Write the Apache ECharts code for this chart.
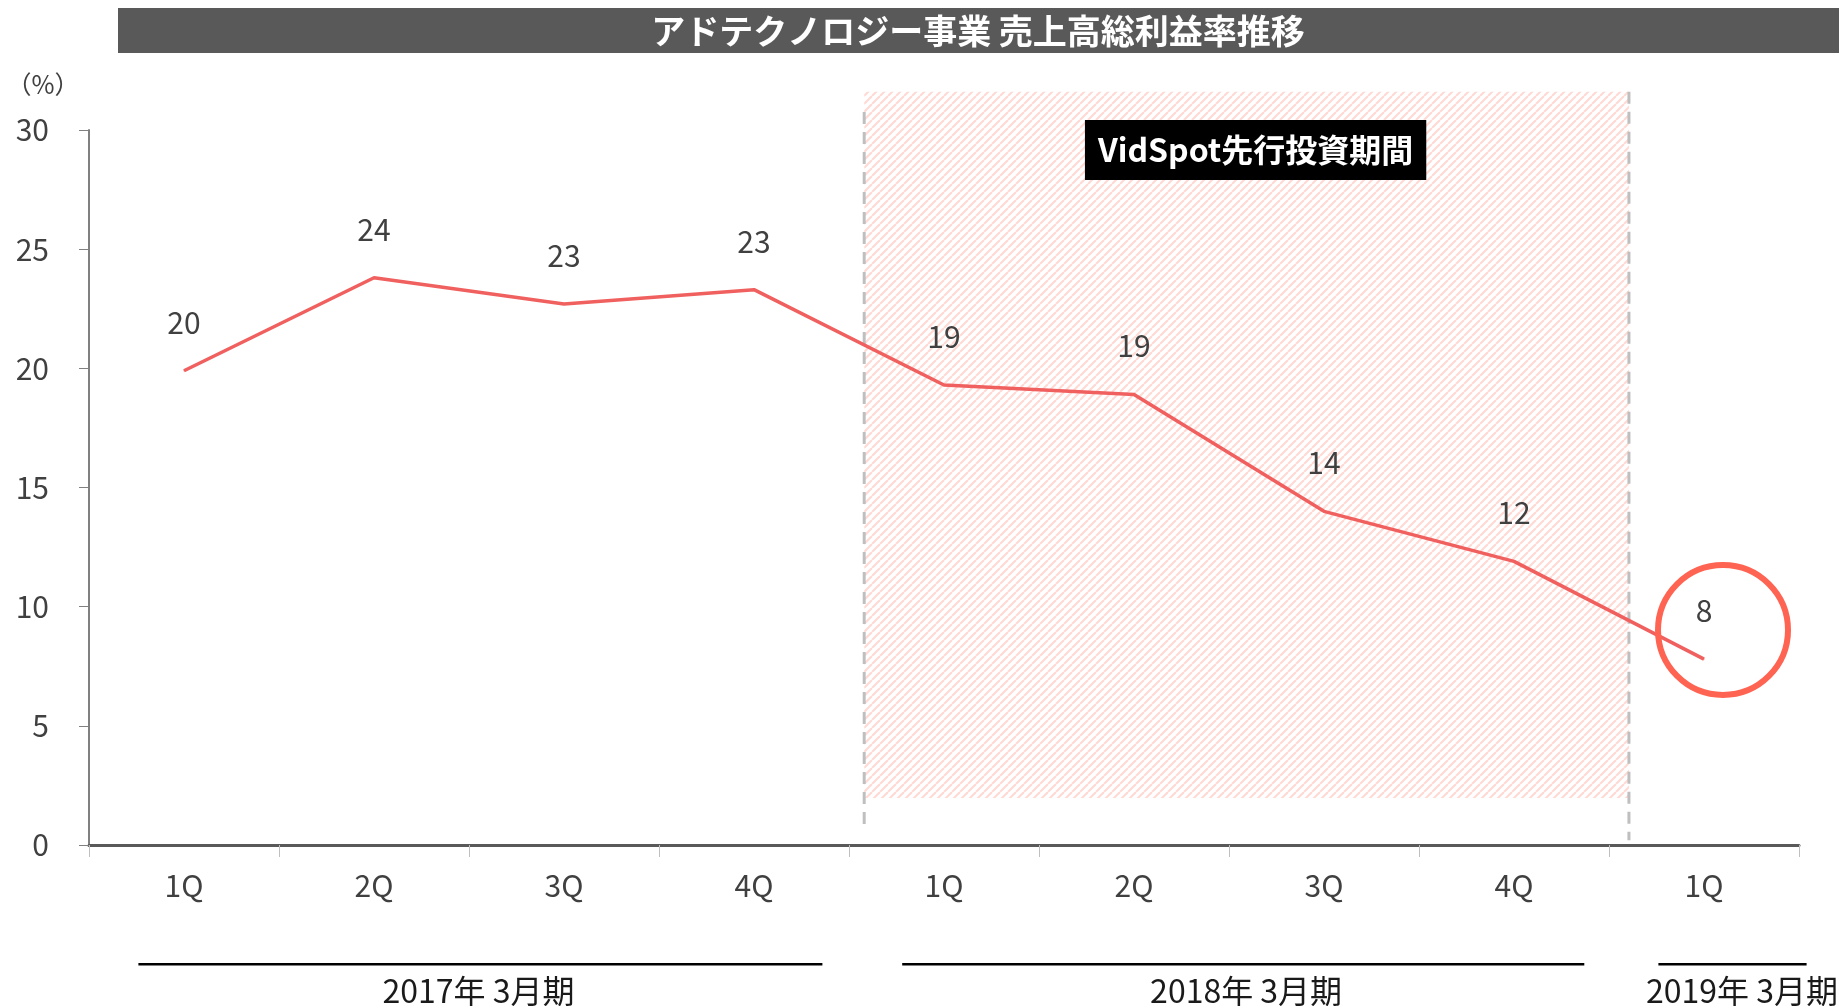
<!DOCTYPE html>
<html>
<head>
<meta charset="utf-8">
<script src="https://cdn.jsdelivr.net/npm/echarts@6/dist/echarts.min.js"></script>
<style>
html,body{margin:0;padding:0;background:#fff;}
#chart{width:1841px;height:1006px;}
</style>
</head>
<body>
<div id="chart"></div>
<script>
const titleText = 'アドテクノロジー事業 売上高総利益率推移';
const categories = ['1Q', '2Q', '3Q', '4Q', '1Q', '2Q', '3Q', '4Q', '1Q'];
const grossMargin = [19.9, 23.8, 22.7, 23.3, 19.3, 18.9, 14.0, 11.9, 7.8];
const fiscalYears = ['2017年 3月期', '2018年 3月期', '2019年 3月期'];
const periodLabel = 'VidSpot先行投資期間';
const unitLabel = '（%）';

// annotation placement (in axis units)
const yearSpans = [[0.26, 3.86, 2.05], [4.28, 7.87, 6.09], [8.26, 9.04, 8.70]];
const band = {x0: 4.08, x1: 8.105, y0: 1.97, y1: 31.6};
const dashL = {x: 4.08, y0: 0.71, y1: 30.76};
const dashR = {x: 8.105, y0: 0.2, y1: 31.6};
const boxCenter = [6.14, 29.16];
const circleCenter = [8.6, 9.02];

const FONT = '"Noto Sans CJK JP", "Noto Sans", sans-serif';

function makeHatch() {
  const s = 8;
  const c = document.createElement('canvas');
  c.width = s; c.height = s;
  const ctx = c.getContext('2d');
  ctx.strokeStyle = '#FFDAD5';
  ctx.lineWidth = 2.2;
  for (const k of [-s, 0, s]) {
    ctx.beginPath();
    ctx.moveTo(k, s);
    ctx.lineTo(k + s, 0);
    ctx.stroke();
  }
  return c;
}
const hatch = makeHatch();

const chart = echarts.init(document.getElementById('chart'));

const option = {
  animation: false,
  backgroundColor: '#fff',
  grid: {left: 89, right: 42, top: 130, bottom: 161},
  graphic: [
    {type: 'rect', left: 118, top: 8, shape: {width: 1721, height: 45}, style: {fill: '#595959'}, z: 0},
    {type: 'text', x: 978, y: 31, style: {text: titleText, fill: '#fff', font: 'bold 34px ' + FONT, align: 'center', verticalAlign: 'middle'}, z: 1},
    {type: 'text', x: 43, y: 84, style: {text: unitLabel, fill: '#404040', font: '25px ' + FONT, align: 'center', verticalAlign: 'middle'}, z: 1}
  ],
  xAxis: [
    {
      type: 'category',
      data: categories,
      boundaryGap: true,
      axisLine: {show: true, lineStyle: {color: '#595959', width: 3}},
      axisTick: {show: true, length: 12, lineStyle: {color: '#BFBFBF', width: 1}},
      axisLabel: {color: '#404040', fontSize: 30, fontFamily: FONT, margin: 26},
      splitLine: {show: false}
    },
    {
      type: 'value', min: 0, max: 9, show: false
    }
  ],
  yAxis: {
    type: 'value', min: 0, max: 30, interval: 5,
    axisLine: {show: true, lineStyle: {color: '#808080', width: 2}},
    axisTick: {show: true, inside: false, length: 10, lineStyle: {color: '#808080', width: 1}},
    axisLabel: {color: '#404040', fontSize: 30, fontFamily: FONT, margin: 40},
    splitLine: {show: false}
  },
  series: [
    {
      type: 'custom',
      xAxisIndex: 1,
      yAxisIndex: 0,
      clip: false,
      silent: true,
      z: 1,
      data: [[0, 0]],
      renderItem: function (params, api) {
        const children = [];
        const tl = api.coord([band.x0, band.y1]);
        const br = api.coord([band.x1, band.y0]);
        children.push({type: 'rect', shape: {x: tl[0], y: tl[1], width: br[0] - tl[0], height: br[1] - tl[1]},
          style: {fill: {image: hatch, repeat: 'repeat'}}, z2: 0});
        [dashL, dashR].forEach(function (d) {
          const a = api.coord([d.x, d.y1]);
          const b = api.coord([d.x, d.y0]);
          children.push({type: 'line', shape: {x1: a[0], y1: a[1], x2: b[0], y2: b[1]},
            style: {stroke: '#BFBFBF', lineWidth: 3, lineDash: [12, 8]}, z2: 1});
        });
        const bc = api.coord(boxCenter);
        children.push({type: 'text', x: bc[0], y: bc[1],
          style: {text: periodLabel, fill: '#fff', font: 'bold 32px ' + FONT, align: 'center', verticalAlign: 'middle',
            backgroundColor: '#000', padding: [13, 13, 13, 13], lineHeight: 34}, z2: 2});
        yearSpans.forEach(function (sp, i) {
          const a = api.coord([sp[0], -5]);
          const b = api.coord([sp[1], -5]);
          children.push({type: 'line', shape: {x1: a[0], y1: a[1], x2: b[0], y2: b[1]},
            style: {stroke: '#000', lineWidth: 2.5}, z2: 1});
          const t = api.coord([sp[2], -6.1]);
          children.push({type: 'text', x: t[0], y: t[1],
            style: {text: fiscalYears[i], fill: '#1a1a1a', font: '32px ' + FONT, align: 'center', verticalAlign: 'middle'}, z2: 1});
        });
        return {type: 'group', children: children};
      }
    },
    {
      type: 'line',
      data: grossMargin,
      z: 3,
      symbol: 'circle',
      symbolSize: 1,
      itemStyle: {color: '#F0605F'},
      lineStyle: {color: '#F0605F', width: 3.5},
      label: {
        show: true, position: 'top', distance: 33,
        color: '#404040', fontSize: 30, fontFamily: FONT,
        formatter: function (p) { return Math.round(p.value); }
      }
    },
    {
      type: 'custom',
      xAxisIndex: 1,
      yAxisIndex: 0,
      clip: false,
      silent: true,
      z: 4,
      data: [[0, 0]],
      renderItem: function (params, api) {
        const c = api.coord(circleCenter);
        return {type: 'circle', shape: {cx: c[0], cy: c[1], r: 65},
          style: {fill: 'none', stroke: '#FF6452', lineWidth: 6}};
      }
    }
  ]
};
chart.setOption(option);
</script>
</body>
</html>
